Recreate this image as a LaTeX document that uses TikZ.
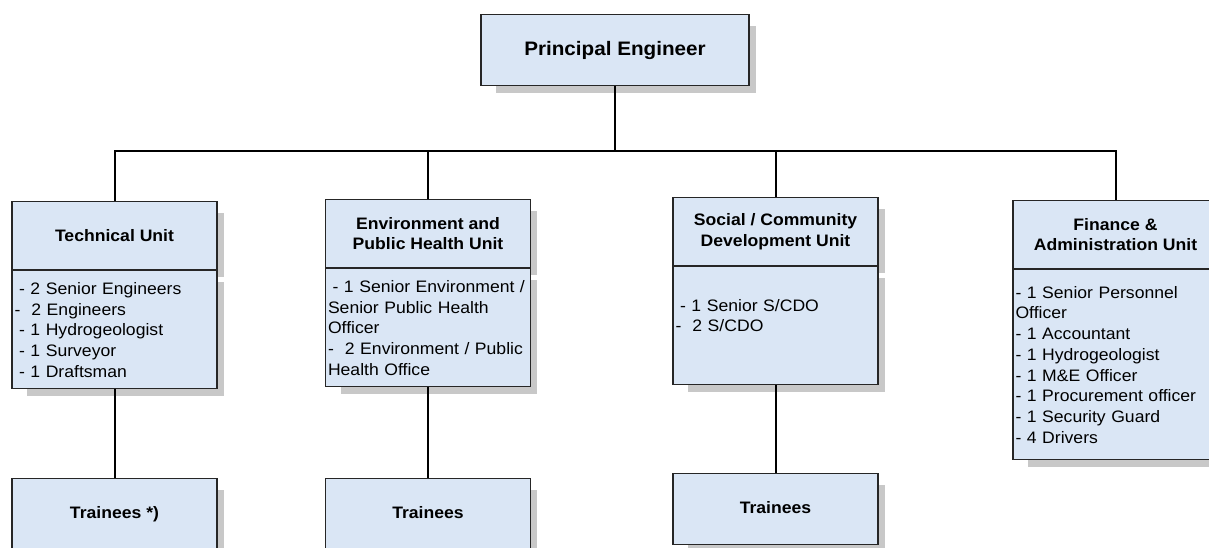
\documentclass[tikz,border=0pt]{standalone}
\usepackage{fontspec}
\setmainfont{Liberation Sans}[FakeStretch=1.06]
\usetikzlibrary{positioning,calc,backgrounds}

\definecolor{boxblue}{RGB}{218,230,245}
\definecolor{shadegray}{RGB}{200,200,200}
\newcommand{\stpad}{\hspace*{4.6pt}}

\begin{document}
\begin{tikzpicture}[x=1pt,y=-1pt,
		box/.style={rectangle,draw=black!85,line width=1.2pt,fill=boxblue,anchor=north,
			minimum width=205pt,inner sep=0pt},
		head/.style={box,minimum height=68pt,align=center,font=\fontsize{16.6}{20.7}\selectfont\bfseries},
		staff/.style={box,minimum height=118pt,text width=200pt,inner xsep=2.5pt,align=left,
			font=\fontsize{16.6}{20.7}\selectfont},
		trainee/.style={head,minimum height=71pt,text height=12pt,text depth=3.5pt},
		link/.style={line width=2pt}]
		\useasboundingbox (0,0) rectangle (1209,547);

		% top of the chart
		\node[box,minimum width=268pt,minimum height=71pt,font=\fontsize{19.5}{24}\selectfont\bfseries]
			(pe) at (615,14) {Principal Engineer};
		\coordinate (bus) at (615,151);

		% the four units, a title part and a staff part each
		\node[head] (tu) at (114.5,201) {Technical Unit};
		\node[staff,below=0pt of tu] (tu-b) {\stpad- 2 Senior Engineers\\-\ \ 2 Engineers\\
			\stpad- 1 Hydrogeologist\\\stpad- 1 Surveyor\\\stpad- 1 Draftsman};

		\node[head] (env) at (428,199) {Environment and\\Public Health Unit};
		\node[staff,below=0pt of env] (env-b) {\mbox{\stpad- 1 Senior Environment /}\\Senior Public Health\\
			Officer\\-\ \ 2 Environment / Public\\Health Office};

		\node[head] (soc) at (775.5,197) {Social / Community\\Development Unit};
		\node[staff,below=0pt of soc] (soc-b) {\stpad- 1 Senior S/CDO\\-\ \ 2 S/CDO\\[0pt]~};

		\node[head] (fin) at (1115.5,200) {Finance \&\\Administration Unit};
		\node[staff,below=0pt of fin,minimum height=190pt] (fin-b) {- 1 Senior Personnel\\Officer\\
			- 1 Accountant\\- 1 Hydrogeologist\\- 1 M\&E Officer\\- 1 Procurement officer\\
			- 1 Security Guard\\- 4 Drivers};

		% trainees
		\node[trainee] (tu-t) at (114.5,478) {Trainees *)};
		\node[trainee] (env-t) at (428,478) {Trainees};
		\node[trainee] (soc-t) at (775.5,473) {Trainees};

		% connectors
		\draw[link] (pe.south) -- (bus);
		\foreach \u in {tu,env,soc,fin}
			\draw[link] (bus) -| (\u.north);
		\foreach \u in {tu,env,soc}
			\draw[link] (\u-b.south) -- (\u-t.north);

		% shadows behind every box
		\begin{scope}[on background layer]
			\foreach \n in {pe,tu,tu-b,env,env-b,soc,soc-b,fin,fin-b,tu-t,env-t,soc-t}
				\fill[shadegray] ($(\n.north west)+(16,12)$) rectangle ($(\n.south east)+(6,7)$);
		\end{scope}
\end{tikzpicture}
\end{document}
